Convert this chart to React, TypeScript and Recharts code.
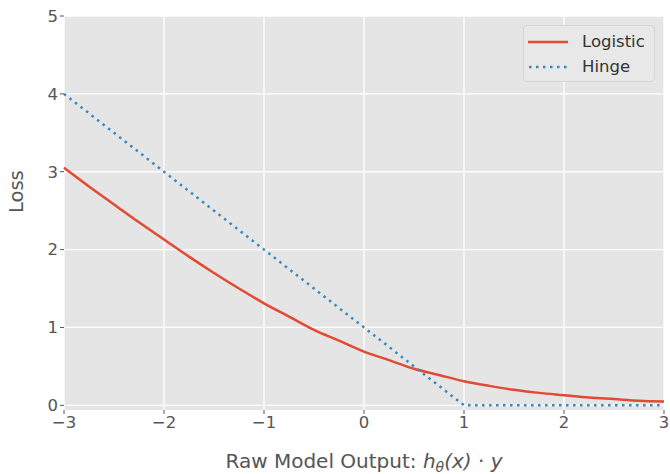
import { LineChart, Line, XAxis, YAxis, CartesianGrid } from "recharts";

const xs = [-3, -2.75, -2.5, -2.25, -2, -1.75, -1.5, -1.25, -1, -0.75, -0.5, -0.25, 0, 0.25, 0.5, 0.75, 1, 1.25, 1.5, 1.75, 2, 2.25, 2.5, 2.75, 3];
const logistic = [3.05, 2.81, 2.58, 2.35, 2.13, 1.91, 1.7, 1.5, 1.31, 1.14, 0.97, 0.83, 0.69, 0.58, 0.47, 0.39, 0.31, 0.25, 0.2, 0.16, 0.13, 0.1, 0.08, 0.06, 0.05];
const hinge = [4, 3.75, 3.5, 3.25, 3, 2.75, 2.5, 2.25, 2, 1.75, 1.5, 1.25, 1, 0.75, 0.5, 0.25, 0, 0, 0, 0, 0, 0, 0, 0, 0];
const xTicks = [-3, -2, -1, 0, 1, 2, 3];
const yTicks = [0, 1, 2, 3, 4, 5];

const data = xs.map((x, i) => ({ x, logistic: logistic[i], hinge: hinge[i] }));

const RED = "#E24A33";
const BLUE = "#348ABD";
const FONT = "DejaVu Sans";

const fmt = (v: number) => String(v).replace("-", "\u2212");

function XLabel({ viewBox }: any) {
  const cx = viewBox.x + viewBox.width / 2;
  return (
    <text x={cx} y={468} textAnchor="middle" fontFamily={FONT} fontSize={20} fill="#555">
      <tspan>Raw Model Output: </tspan>
      <tspan fontStyle="italic">h</tspan>
      <tspan fontStyle="italic" fontSize={14} dy={4}>θ</tspan>
      <tspan fontStyle="italic" dy={-4}>(x)</tspan>
      <tspan> · </tspan>
      <tspan fontStyle="italic">y</tspan>
    </text>
  );
}

function LegendBox() {
  return (
    <div
      style={{
        position: "absolute",
        left: 523,
        top: 25,
        width: 132,
        height: 57,
        boxSizing: "border-box",
        background: "#E8E8E8",
        border: "1px solid #d6d6d6",
        borderRadius: 4,
        padding: "3px 0 0 4px",
        fontFamily: FONT,
        fontSize: 16.5,
        color: "#333",
        lineHeight: "25px",
      }}
    >
      <div style={{ display: "flex", alignItems: "center" }}>
        <svg width={42} height={10} style={{ marginRight: 12 }}>
          <line x1={0} y1={5} x2={40} y2={5} stroke={RED} strokeWidth={2.5} />
        </svg>
        Logistic
      </div>
      <div style={{ display: "flex", alignItems: "center" }}>
        <svg width={42} height={10} style={{ marginRight: 12 }}>
          <line x1={1} y1={5} x2={40} y2={5} stroke={BLUE} strokeWidth={2.5} strokeDasharray="2.5 4.5" />
        </svg>
        Hinge
      </div>
    </div>
  );
}

export default function App() {
  return (
    <div style={{ position: "absolute", left: 0, top: 0, width: 670, height: 474, background: "#fff" }}>
      <LineChart width={670} height={474} data={data} margin={{ top: 16, right: 6, bottom: 34, left: 24 }}>
        <CartesianGrid fill="#E5E5E5" stroke="#fff" strokeWidth={1.3} horizontalValues={yTicks} verticalValues={xTicks} />
        <XAxis
          dataKey="x"
          type="number"
          domain={[-3, 3]}
          ticks={xTicks}
          tickFormatter={fmt}
          axisLine={false}
          tickLine={{ stroke: "#555" }}
          tickSize={4}
          height={30}
          tick={{ fill: "#555", fontFamily: FONT, fontSize: 16.5 }}
          label={<XLabel />}
        />
        <YAxis
          type="number"
          domain={[-0.06, 5]}
          ticks={yTicks}
          allowDataOverflow
          axisLine={false}
          tickLine={{ stroke: "#555" }}
          tickSize={4}
          width={40}
          tick={{ fill: "#555", fontFamily: FONT, fontSize: 16.5 }}
          label={{ value: "Loss", angle: -90, position: "insideLeft", offset: -8, fill: "#555", fontFamily: FONT, fontSize: 19.5 }}
        />
        <Line dataKey="logistic" type="monotone" stroke={RED} strokeWidth={2.5} dot={false} isAnimationActive={false} />
        <Line dataKey="hinge" type="linear" stroke={BLUE} strokeWidth={2.5} strokeDasharray="2.5 4.5" dot={false} isAnimationActive={false} />
      </LineChart>
      <LegendBox />
    </div>
  );
}
